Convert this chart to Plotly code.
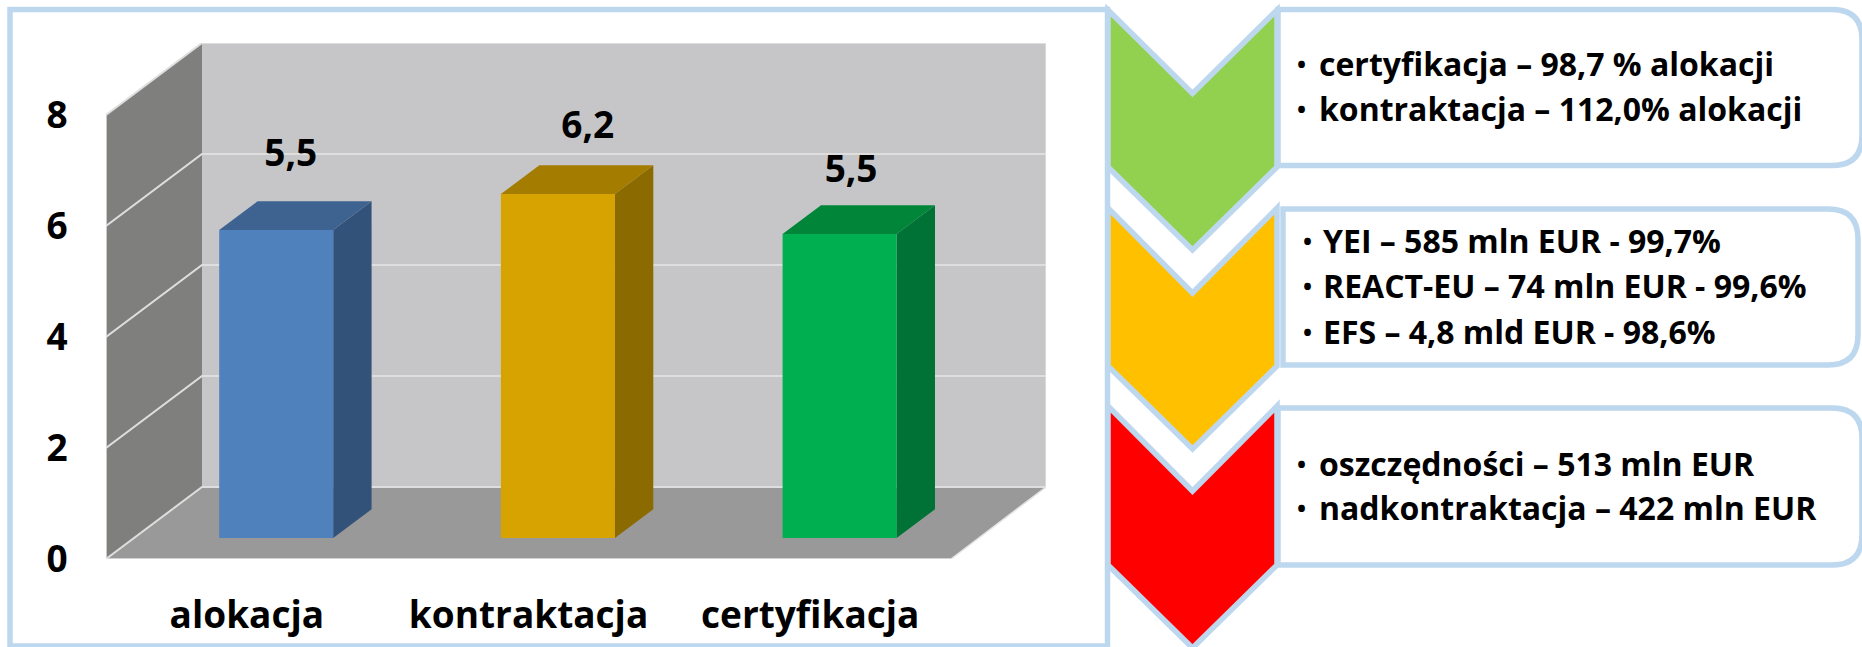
import plotly.graph_objects as go

# ---------- data ----------
categories = ["alokacja", "kontraktacja", "certyfikacja"]
values = [5.55, 6.2, 5.48]
value_labels = ["5,5", "6,2", "5,5"]
y_ticks = [0, 2, 4, 6, 8]
box1_lines = ["certyfikacja – 98,7 % alokacji", "kontraktacja – 112,0% alokacji"]
box2_lines = ["YEI – 585 mln EUR - 99,7%", "REACT-EU – 74 mln EUR - 99,6%", "EFS – 4,8 mld EUR - 98,6%"]
box3_lines = ["oszczędności – 513 mln EUR", "nadkontraktacja – 422 mln EUR"]

# ---------- geometry / styling ----------
W, H = 1862, 647
FONT = "Open Sans"
BORDER = "#BDD7EE"
GRID = "#DEDEDE"
PX_X, PX_Y = 281.7, 55.5            # pixels per category / per value unit
PLOT_L, PLOT_R, PLOT_T, PLOT_B = 106, 1046, 43, 559
DX, DY = 96 / PX_X, 72 / PX_Y       # oblique depth of the 3D box, in data units
XMIN = -0.5
XMAX = XMIN + (PLOT_R - PLOT_L) / PX_X
YMAX = (PLOT_B - PLOT_T) / PX_Y
XFRONT = XMIN + (951 - 106) / PX_X
F_FRONT, F_BACK = 0.29, 0.69        # depth position of bars
HALF = 57 / PX_X
BAR_SHIFT = 1.5 / PX_X
BAR_COLORS = [("#4F81BD", "#33527A", "#3E6390"),
              ("#D6A300", "#8B6A00", "#A37C00"),
              ("#00B050", "#007236", "#008539")]
LABEL_DX = [0.156, 0.21, 0.145]
LABEL_DY = [1.69, 1.55, 1.48]

fig = go.Figure()

# pixel-unit subplot (primary axes, drawn first) holds panel, chevrons, boxes
fig.add_trace(go.Scatter(x=[0], y=[0], mode="markers",
                         marker=dict(opacity=0), hoverinfo="skip", showlegend=False))


def poly(xs, ys, color):
    fig.add_trace(go.Scatter(x=xs, y=ys, xaxis="x2", yaxis="y2", mode="lines", fill="toself", fillcolor=color,
                             line=dict(width=0), hoverinfo="skip", showlegend=False,
                             cliponaxis=False))


def line(xs, ys, color=GRID, width=2):
    fig.add_trace(go.Scatter(x=xs, y=ys, xaxis="x2", yaxis="y2", mode="lines", line=dict(color=color, width=width),
                             hoverinfo="skip", showlegend=False, cliponaxis=False))


top = y_ticks[-1]
# walls and floor
poly([XMIN + DX, XMAX, XMAX, XMIN + DX, XMIN + DX], [DY, DY, top + DY, top + DY, DY], "#C6C6C8")
poly([XMIN, XMIN + DX, XMIN + DX, XMIN, XMIN], [0, DY, top + DY, top, 0], "#7F807E")
poly([XMIN, XMIN + DX, XMAX, XFRONT, XMIN], [0, DY, DY, 0, 0], "#999999")
# grid lines on walls
for t in y_ticks:
    line([XMIN, XMIN + DX, XMAX], [t, t + DY, t + DY])
line([XMIN, XFRONT, XMAX], [0, 0, DY], "#E4E4E4", 1.5)
line([XMIN, XMIN], [0, top], "#E4E4E4", 1.5)
line([XMAX, XMAX], [DY, top + DY], "#DEDEDE", 1.5)

# 3D bars computed from the values
for i, v in enumerate(values):
    front, side, cap = BAR_COLORS[i]
    x0 = i + F_FRONT * DX + BAR_SHIFT - HALF
    x1 = i + F_FRONT * DX + BAR_SHIFT + HALF
    b0 = F_FRONT * DY
    sx = (F_BACK - F_FRONT) * DX
    sy = (F_BACK - F_FRONT) * DY
    poly([x1, x1 + sx, x1 + sx, x1, x1], [b0, b0 + sy, b0 + sy + v, b0 + v, b0], side)
    poly([x0, x0 + sx, x1 + sx, x1, x0], [b0 + v, b0 + v + sy, b0 + v + sy, b0 + v, b0 + v], cap)
    poly([x0, x1, x1, x0, x0], [b0, b0, b0 + v, b0 + v, b0], front)

# value labels
fig.add_trace(go.Scatter(
    x=[i + LABEL_DX[i] for i in range(len(values))],
    y=[v + LABEL_DY[i] for i, v in enumerate(values)],
    xaxis="x2", yaxis="y2",
    mode="text", text=value_labels, textposition="middle center",
    textfont=dict(family=FONT, size=37, color="#000000", weight=700),
    hoverinfo="skip", showlegend=False, cliponaxis=False))

shapes = []
annots = []


def path_shape(path, fill, width=5.5, layer="below"):
    shapes.append(dict(type="path", xref="x", yref="y", path=path, fillcolor=fill,
                       line=dict(color=BORDER, width=width), layer=layer))


def chevron(y_top, y_notch, y_side, y_tip, fill):
    xl, xr, xc = 1108, 1277, 1192.5
    path_shape(f"M{xl},{y_top} L{xc},{y_notch} L{xr},{y_top} L{xr},{y_side} L{xc},{y_tip} L{xl},{y_side} Z", fill)


def box(xl, xr, yt, yb, r=30):
    path_shape(f"M{xl},{yt} L{xr - r},{yt} Q{xr},{yt} {xr},{yt + r} L{xr},{yb - r} Q{xr},{yb} {xr - r},{yb} L{xl},{yb} Z",
               "#FFFFFF")


def text_lines(lines, ys, xb, xt):
    for s, y in zip(lines, ys):
        annots.append(dict(xref="x", yref="y", x=xb, y=y, text="•", showarrow=False, xanchor="center",
                           yanchor="middle", font=dict(family=FONT, size=24, color="#000000", weight=700)))
        annots.append(dict(xref="x", yref="y", x=xt, y=y, text=s, showarrow=False, xanchor="left",
                           yanchor="middle", font=dict(family=FONT, size=32, color="#000000", weight=700)))


# outer panel
path_shape("M10,9.5 L1107.5,9.5 L1107.5,646 L10,646 Z", "#FFFFFF")
box(1278, 1862, 9.5, 165.5)
box(1283, 1858, 209, 365)
box(1278, 1862, 408, 565)
chevron(10, 93.5, 167, 250, "#92D050")
chevron(208, 293, 366, 449, "#FFC000")
chevron(406, 491, 565, 648, "#FF0000")

text_lines(box1_lines, [63, 108], 1301, 1317)
text_lines(box2_lines, [240, 285, 331], 1307, 1321)
text_lines(box3_lines, [463, 507], 1301, 1317)

tick_font = dict(family=FONT, size=37, color="#000000", weight=700)
fig.update_layout(
    width=W, height=H, margin=dict(l=0, r=0, t=0, b=0), autosize=False,
    paper_bgcolor="#FFFFFF", plot_bgcolor="rgba(0,0,0,0)", showlegend=False,
    shapes=shapes, annotations=annots,
    xaxis2=dict(domain=[PLOT_L / W, PLOT_R / W], range=[XMIN, XMAX], anchor="y2", automargin=False,
                tickvals=list(range(len(categories))), ticktext=categories, tickfont=tick_font,
                showgrid=False, zeroline=False, showline=False,
                ticks="outside", ticklen=24, tickcolor="rgba(0,0,0,0)"),
    yaxis2=dict(domain=[1 - PLOT_B / H, 1 - PLOT_T / H], range=[0, YMAX], anchor="x2", automargin=False,
                tickvals=y_ticks, ticktext=[str(t) for t in y_ticks], tickfont=tick_font,
                showgrid=False, zeroline=False, showline=False,
                ticks="outside", ticklen=30, tickcolor="rgba(0,0,0,0)"),
    xaxis=dict(domain=[0, 1], range=[0, W], anchor="y", visible=False, fixedrange=True, automargin=False),
    yaxis=dict(domain=[0, 1], range=[H, 0], anchor="x", visible=False, fixedrange=True, automargin=False),
)

fig.write_html("out.html", config={"displayModeBar": False},
               post_script="document.body.style.margin='0';document.body.style.overflow='hidden';")
